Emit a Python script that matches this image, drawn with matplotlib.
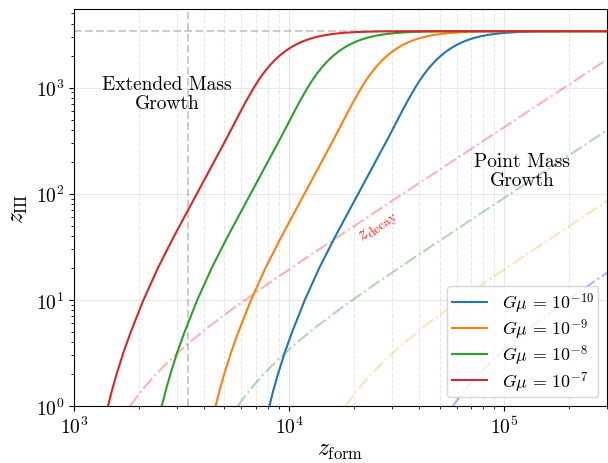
import matplotlib
matplotlib.use("Agg")
import matplotlib.pyplot as plt

plt.rcParams["font.family"] = "serif"
plt.rcParams["font.serif"] = ["cmr10", "DejaVu Serif"]
plt.rcParams["mathtext.fontset"] = "cm"
plt.rcParams["axes.formatter.use_mathtext"] = True
plt.rcParams["axes.unicode_minus"] = False

# matter-radiation equality
Z_EQ = 3400

gmu_labels = [r"$G\mu\,=\,10^{-10}$", r"$G\mu\,=\,10^{-9}$", r"$G\mu\,=\,10^{-8}$",
              r"$G\mu\,=\,10^{-7}$"]
line_colors = ["tab:blue", "tab:orange", "tab:green", "tab:red"]
decay_colors = ["b", "orange", "g", "r"]

# z_III reached for a loop formed at z_form
z_III = [1, 1.413, 2, 3.162, 5, 10, 20, 39.8, 63.1, 100, 177.8, 316, 437.8, 574.1,
         747.0, 1000, 1194, 1361, 1576, 1791, 1995, 2190, 2371, 2535, 2680, 2808,
         2939, 3042, 3127, 3194, 3254, 3297, 3336, 3356, 3378, 3387, 3392, 3399, 3400]
zform_gmu_1e10 = [8092, 8452, 8874, 9526, 10330, 11832, 13805, 16403, 18535, 20942,
                  24394, 28410, 30901, 33110, 35484, 38548, 40736, 42659, 45184, 47861,
                  50700, 53703, 56886, 60255, 63826, 67610, 72440, 77625, 83176, 89125,
                  96604, 104713, 114814, 125893, 141254, 158489, 186209, 223872, 300000]
zform_gmu_1e9 = [4551, 4753, 4990, 5357, 5809, 6653, 7763, 9224, 10423, 11776,
                 13718, 15976, 17377, 18620, 19954, 21677, 22908, 23989, 25409, 26914,
                 28511, 30200, 31990, 33884, 35892, 38020, 40736, 43652, 46774, 50119,
                 54325, 58884, 64564, 70795, 79433, 89125, 104713, 125893, 300000]
zform_gmu_1e8 = [2559, 2673, 2806, 3012, 3267, 3742, 4366, 5187, 5861, 6622,
                 7714, 8984, 9772, 10471, 11221, 12190, 12882, 13490, 14289, 15135,
                 16033, 16982, 17989, 19054, 20184, 21380, 22908, 24547, 26303, 28184,
                 30549, 33113, 36307, 39810, 44668, 50119, 58884, 70795, 300000]
zform_gmu_1e7 = [1439, 1503, 1578, 1694, 1837, 2104, 2455, 2917, 3296, 3724,
                 4338, 5052, 5495, 5888, 6310, 6855, 7244, 7586, 8035, 8511,
                 9016, 9550, 10116, 10715, 11350, 12023, 12882, 13804, 14791, 15849,
                 17179, 18621, 20417, 22387, 25119, 28184, 33113, 39811, 300000]

# loop decay redshift vs formation redshift
z_decay = [1.0, 1.204, 1.522, 1.985, 2.642, 3.719, 5.461, 8.612, 14.10, 26.55, 67.25, 1811]
decay_gmu_1e10 = [57680, 61660, 67610, 75860, 87090, 104700, 131830, 177830, 251190,
                  398110, 794330, 9375600]
decay_gmu_1e9 = [18240, 19500, 21380, 23990, 27540, 33110, 41690, 56230, 79430,
                 125890, 251190, 2964830]
decay_gmu_1e8 = [5768, 6166, 6761, 7586, 8710, 10471, 13183, 17783, 25119,
                 39811, 79433, 937560]
decay_gmu_1e7 = [1824, 1950, 2138, 2399, 2754, 3311, 4169, 5623, 7943,
                 12589, 25119, 296483]

zform_curves = [zform_gmu_1e10, zform_gmu_1e9, zform_gmu_1e8, zform_gmu_1e7]
decay_curves = [decay_gmu_1e10, decay_gmu_1e9, decay_gmu_1e8, decay_gmu_1e7]

fig = plt.figure(figsize=(6.08, 4.64), dpi=100)
ax = fig.add_axes([0.1217, 0.1228, 0.8766, 0.8556])

ax.axhline(Z_EQ, color="gray", ls="--", lw=1.5, alpha=0.4)
ax.axvline(Z_EQ, color="gray", ls="--", lw=1.5, alpha=0.4)

for zf, c in zip(decay_curves, decay_colors):
    ax.plot(zf, z_decay, ls="-.", lw=1.5, color=c, alpha=0.3)

for zf, c, lab in zip(zform_curves, line_colors, gmu_labels):
    ax.plot(zf, z_III, lw=1.5, color=c, label=lab)

ax.set_xscale("log")
ax.set_yscale("log")
ax.set_xlim(1e3, 3e5)
ax.set_ylim(1, 5500)

ax.grid(True, which="major", alpha=0.3)
ax.grid(True, which="minor", axis="x", ls="--", alpha=0.3)

ax.tick_params(axis="both", which="major", labelsize=14)
ax.set_xlabel(r"$z_{\rm form}$", fontsize=17, labelpad=1)
ax.set_ylabel(r"$z_{\rm III}$", fontsize=17)

ax.text(2700, 880, "Extended Mass\nGrowth", fontsize=14, ha="center", va="center",
        linespacing=1.1)
ax.text(1.21e5, 165, "Point Mass\nGrowth", fontsize=14, ha="center", va="center",
        linespacing=1.1)
ax.text(2.6e4, 49, r"$z_{\rm decay}$", color="r", fontsize=14, rotation=37,
        ha="center", va="center", alpha=0.85)

# mathtext rows are tall, so tighten the row spacing
ax.legend(loc="lower right", fontsize=12.8, labelspacing=0.09, borderpad=0.25)

fig.savefig("out.png", dpi=100)
